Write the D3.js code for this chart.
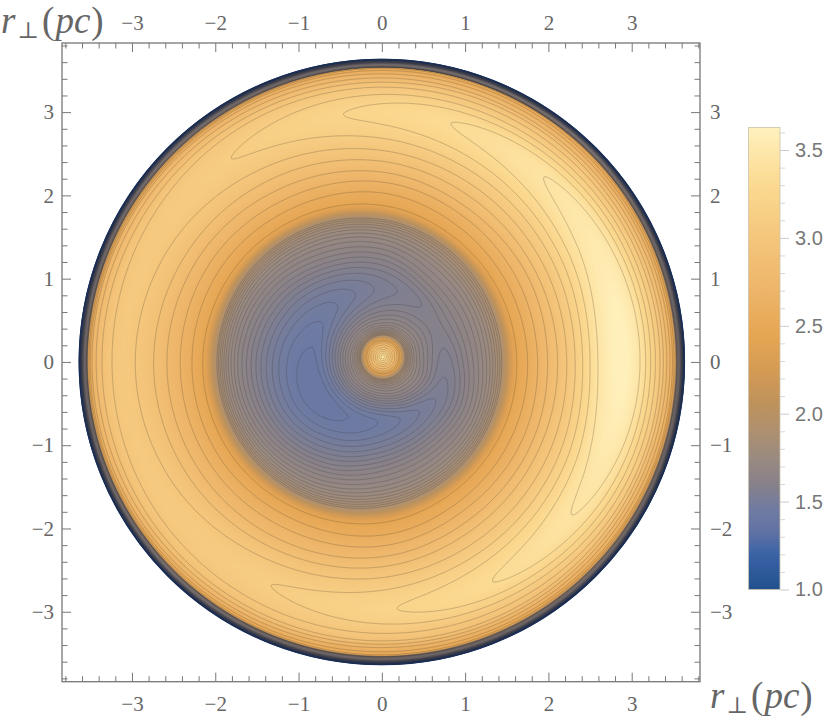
<!DOCTYPE html>
<html>
<head>
<meta charset="utf-8">
<script src="https://cdn.jsdelivr.net/npm/d3@7"></script>
<style>
html, body { margin: 0; padding: 0; background: #fff; }
svg { display: block; }
</style>
</head>
<body>
<div id="chart"></div>
<script>
// tick labels
let majorTicks = [-3, -2, -1, 0, 1, 2, 3]
let barTicks = [1.0, 1.5, 2.0, 2.5, 3.0, 3.5]

// colour function
let colorValues = [1.0, 1.2, 1.32, 1.45, 1.6, 1.75, 1.9, 2.05, 2.25, 2.45, 2.7, 3.0, 3.3, 3.63]
let colorStops = ["#22508d", "#3a63a6", "#5f71a4", "#6f7ba2", "#878189", "#9a8a80", "#ae9070", "#bd925c", "#d59b54", "#e6a653", "#edb569", "#f4c67c", "#fbd990", "#fff1bd"]

// contour levels, dense under 1.9 and sparse above
let denseLevels = [1.0, 1.025, 1.05, 1.075, 1.1, 1.125, 1.15, 1.175, 1.2, 1.225, 1.25, 1.275, 1.3, 1.325, 1.35, 1.375, 1.4, 1.425, 1.45, 1.475, 1.5, 1.525, 1.55, 1.575, 1.6, 1.625, 1.65, 1.675, 1.7, 1.725, 1.75, 1.775, 1.8, 1.825, 1.85, 1.875, 1.9]
let sparseLevels = [2.45, 2.56, 2.67, 2.78, 2.89, 3.0, 3.11, 3.22, 3.33, 3.44]

// bright spot in the middle (radius, value)
let coreCenter = [0.012, 0.06]
let coreRadii = [0, 0.1, 0.2, 0.245]
let coreValues = [3.45, 2.95, 2.5, 1.95]

// falling edge of the disk (radius, value)
let rimRadii = [3.535, 3.59, 3.635]
let rimValues = [1.9, 1.6, 1.0]

// profile knots for every 30 degrees of angle
let angles = [0, 30, 60, 90, 120, 150, 180, 210, 240, 270, 300, 330]
let shoulderIn = [0.49, 0.50, 0.48, 0.45, 0.44, 0.44, 0.45, 0.46, 0.46, 0.47, 0.50, 0.52]
let troughR = [0.74, 0.72, 0.78, 0.82, 0.84, 0.85, 0.87, 0.88, 0.84, 0.78, 0.78, 0.80]
let troughV = [1.567, 1.59, 1.568, 1.535, 1.49, 1.45, 1.418, 1.405, 1.425, 1.455, 1.495, 1.537]
let shoulderOut = [1.02, 0.98, 1.06, 1.28, 1.43, 1.60, 1.68, 1.64, 1.50, 1.32, 1.20, 1.14]
let ring190 = [1.44, 1.47, 1.57, 1.71, 1.84, 1.94, 1.98, 1.95, 1.87, 1.74, 1.60, 1.49]
let ring245 = [1.62, 1.643, 1.73, 1.88, 2.0, 2.10, 2.15, 2.127, 2.04, 1.93, 1.775, 1.667]
let ring256 = [1.75, 1.77, 1.865, 2.03, 2.135, 2.24, 2.28, 2.26, 2.17, 2.08, 1.91, 1.80]
let ring267 = [1.87, 1.90, 2.0, 2.16, 2.27, 2.38, 2.42, 2.40, 2.31, 2.21, 2.03, 1.93]
let ring278 = [1.99, 2.03, 2.11, 2.28, 2.41, 2.53, 2.58, 2.55, 2.46, 2.34, 2.16, 2.05]
let ring289 = [2.11, 2.14, 2.24, 2.41, 2.56, 2.68, 2.74, 2.70, 2.59, 2.46, 2.28, 2.16]
let ring300 = [2.22, 2.26, 2.37, 2.54, 2.72, 2.89, 2.96, 2.90, 2.74, 2.59, 2.42, 2.29]
let ridgeR = [2.88, 2.93, 2.97, 3.0, 3.03, 3.07, 3.10, 3.08, 3.0, 2.97, 2.95, 2.92]
let ridgeV = [3.62, 3.52, 3.39, 3.26, 3.13, 3.06, 3.04, 3.05, 3.10, 3.205, 3.345, 3.48]
let edge300 = [3.34, 3.33, 3.31, 3.30, 3.29, 3.26, 3.24, 3.25, 3.25, 3.26, 3.29, 3.33]
let edge289 = [3.38, 3.375, 3.37, 3.36, 3.36, 3.36, 3.36, 3.36, 3.35, 3.35, 3.36, 3.37]
let edge278 = [3.42, 3.42, 3.41, 3.41, 3.42, 3.43, 3.43, 3.42, 3.40, 3.39, 3.40, 3.41]
let edge267 = [3.46, 3.46, 3.46, 3.46, 3.47, 3.48, 3.48, 3.47, 3.45, 3.43, 3.44, 3.45]
let edge256 = [3.49, 3.49, 3.50, 3.50, 3.50, 3.50, 3.50, 3.50, 3.49, 3.48, 3.48, 3.49]
let edge245 = [3.51, 3.52, 3.53, 3.53, 3.52, 3.52, 3.52, 3.52, 3.52, 3.52, 3.51, 3.51]

let diskRadius = 3.64

let width = 830
let height = 719

let svg = d3.select("#chart").append("svg")
    .attr("width", width)
    .attr("height", height)

let x = d3.scaleLinear().domain([-3.84, 3.82]).range([62, 700])
let y = d3.scaleLinear().domain([-3.84, 3.83]).range([681.7, 43])
let barY = d3.scaleLinear().domain([1.0, 3.628]).range([589.5, 127.5])
let color = d3.scaleLinear().domain(colorValues).range(colorStops).clamp(true)

// each knot row with the value it stands for
let knots = [
    [shoulderIn, 1.65], [troughR, troughV], [shoulderOut, 1.65], [ring190, 1.9],
    [ring245, 2.45], [ring256, 2.56], [ring267, 2.67], [ring278, 2.78], [ring289, 2.89], [ring300, 3.0],
    [ridgeR, ridgeV],
    [edge300, 3.0], [edge289, 2.89], [edge278, 2.78], [edge267, 2.67], [edge256, 2.56], [edge245, 2.45]
]

function catmull(arr, t) {
    let n = arr.length
    let i = Math.floor(t)
    let f = t - i
    let p0 = arr[(i - 1 + n) % n], p1 = arr[i % n], p2 = arr[(i + 1) % n], p3 = arr[(i + 2) % n]
    return 0.5 * (2 * p1 + (p2 - p0) * f + (2 * p0 - 5 * p1 + 4 * p2 - p3) * f * f + (3 * p1 - p0 - 3 * p2 + p3) * f * f * f)
}

// monotone cubic through the knots of one angle, written into out[]
function fillProfile(rs, vs, out, dr) {
    let n = rs.length
    let d = [], m = []
    for (let i = 0; i < n - 1; i++) d.push((vs[i + 1] - vs[i]) / (rs[i + 1] - rs[i]))
    m[0] = d[0]
    m[n - 1] = d[n - 2]
    for (let i = 1; i < n - 1; i++) {
        if (d[i - 1] * d[i] <= 0) m[i] = 0
        else {
            let h0 = rs[i] - rs[i - 1], h1 = rs[i + 1] - rs[i]
            m[i] = 3 * (h0 + h1) / ((2 * h1 + h0) / d[i - 1] + (h1 + 2 * h0) / d[i])
        }
    }
    let k = 0
    for (let j = 0; j < out.length; j++) {
        let r = j * dr
        while (k < n - 2 && r > rs[k + 1]) k++
        let h = rs[k + 1] - rs[k]
        let t = Math.min(1, Math.max(0, (r - rs[k]) / h))
        let t2 = t * t, t3 = t2 * t
        out[j] = (2 * t3 - 3 * t2 + 1) * vs[k] + (t3 - 2 * t2 + t) * h * m[k] + (3 * t2 - 2 * t3) * vs[k + 1] + (t3 - t2) * h * m[k + 1]
    }
}

// lookup table over angle and radius
let thetaSteps = 720
let dr = 0.004
let radiusSteps = Math.ceil(3.7 / dr)
let lut = []
for (let a = 0; a < thetaSteps; a++) {
    let t = a / thetaSteps * angles.length
    let rs = coreRadii.slice()
    let vs = coreValues.slice()
    knots.forEach(k => {
        let r = catmull(k[0], t)
        rs.push(Math.max(r, rs[rs.length - 1] + 0.002))
        vs.push(Array.isArray(k[1]) ? catmull(k[1], t) : k[1])
    })
    rimRadii.forEach((r, i) => {
        rs.push(Math.max(r, rs[rs.length - 1] + 0.002))
        vs.push(rimValues[i])
    })
    let out = new Float32Array(radiusSteps)
    fillProfile(rs, vs, out, dr)
    lut.push(out)
}

function field(px, py) {
    let r0 = Math.hypot(px, py)
    let w = r0 < 0.8 ? 1 : r0 > 1.4 ? 0 : (1.4 - r0) / 0.6
    let qx = px - coreCenter[0] * w
    let qy = py - coreCenter[1] * w
    let r = Math.hypot(qx, qy)
    if (r >= 3.635) return 0.9
    let a = (Math.atan2(qy, qx) / (2 * Math.PI) + 1) % 1 * thetaSteps
    let a0 = Math.floor(a) % thetaSteps, a1 = (a0 + 1) % thetaSteps, fa = a - Math.floor(a)
    let j = r / dr
    let j0 = Math.floor(j), fj = j - j0
    let v0 = lut[a0][j0] * (1 - fj) + lut[a0][j0 + 1] * fj
    let v1 = lut[a1][j0] * (1 - fj) + lut[a1][j0 + 1] * fj
    return v0 * (1 - fa) + v1 * fa
}

// sample the field on a pixel grid
let gridX = 72, gridY = 52, gridN = 620
let grid = new Float64Array(gridN * gridN)
let canvas = document.createElement("canvas")
canvas.width = gridN
canvas.height = gridN
let ctx = canvas.getContext("2d")
let img = ctx.createImageData(gridN, gridN)
let palette = d3.range(0, 1024).map(i => d3.rgb(color(1 + i / 1023 * 2.63)))
for (let j = 0; j < gridN; j++) {
    let py = y.invert(gridY + j + 0.5)
    for (let i = 0; i < gridN; i++) {
        let px = x.invert(gridX + i + 0.5)
        let v = field(px, py)
        grid[j * gridN + i] = v
        let c = palette[Math.max(0, Math.min(1023, Math.round((v - 1) / 2.63 * 1023)))]
        let o = (j * gridN + i) * 4
        let edge = (diskRadius - Math.hypot(px, py)) * 83.3 + 0.5
        img.data[o] = c.r
        img.data[o + 1] = c.g
        img.data[o + 2] = c.b
        img.data[o + 3] = 255 * Math.max(0, Math.min(1, edge))
    }
}
ctx.putImageData(img, 0, 0)

svg.append("defs").append("clipPath").attr("id", "disk")
    .append("circle")
    .attr("cx", x(0))
    .attr("cy", y(0))
    .attr("r", x(diskRadius) - x(0))

svg.append("image")
    .attr("x", gridX)
    .attr("y", gridY)
    .attr("width", gridN)
    .attr("height", gridN)
    .attr("href", canvas.toDataURL())

let levels = denseLevels.concat(sparseLevels)
let contours = d3.contours().size([gridN, gridN]).thresholds(levels)(grid)
let path = d3.geoPath(d3.geoIdentity().translate([gridX, gridY]))

svg.append("g")
    .attr("clip-path", "url(#disk)")
    .selectAll("path")
    .data(contours)
    .enter()
    .append("path")
    .attr("d", path)
    .attr("fill", "none")
    .attr("stroke", d => d.value < 2 ? "#3c3a40" : "#6b5a3e")
    .attr("stroke-opacity", d => d.value < 2 ? 0.5 : 0.6)
    .attr("stroke-width", 0.55)

// dark rim where the outermost contours pile up
svg.append("circle")
    .attr("cx", x(0))
    .attr("cy", y(0))
    .attr("r", x(diskRadius) - x(0) - 0.8)
    .attr("fill", "none")
    .attr("stroke", "#1b2d52")
    .attr("stroke-width", 1.8)

// frame and ticks
let frameColor = "#777777"
let minorTicks = d3.range(-38, 39, 2).map(d => d / 10).filter(d => d % 1 !== 0)
let labelFont = "'Liberation Serif', serif"

function styleAxis(g) {
    g.select(".domain").remove()
    g.selectAll("line").attr("stroke", frameColor).attr("stroke-width", 1)
    g.selectAll("text").attr("fill", "#666666").attr("font-family", labelFont).attr("font-size", 21)
}

svg.append("rect")
    .attr("x", x.range()[0])
    .attr("y", y.range()[1])
    .attr("width", x.range()[1] - x.range()[0])
    .attr("height", y.range()[0] - y.range()[1])
    .attr("fill", "none")
    .attr("stroke", frameColor)
    .attr("stroke-width", 1.3)

let sides = [
    [d3.axisBottom(x), "translate(0," + y.range()[0] + ")", 14],
    [d3.axisTop(x), "translate(0," + y.range()[1] + ")", 13],
    [d3.axisLeft(y), "translate(" + x.range()[0] + ",0)", 8],
    [d3.axisRight(y), "translate(" + x.range()[1] + ",0)", 10]
]
sides.forEach(s => {
    svg.append("g").attr("transform", s[1])
        .call(s[0].tickValues(majorTicks).tickSize(-9).tickPadding(s[2]).tickFormat(d3.format("d")))
        .call(styleAxis)
    svg.append("g").attr("transform", s[1])
        .call(s[0].tickValues(minorTicks).tickSize(-5.5).tickFormat(""))
        .call(styleAxis)
})

// axis titles
function axisTitle(tx, ty) {
    let t = svg.append("text")
        .attr("x", tx)
        .attr("y", ty)
        .attr("font-family", labelFont)
        .attr("font-size", 37)
        .attr("fill", "#666666")
    t.append("tspan").attr("font-style", "italic").text("r")
    t.append("tspan").attr("dy", 5).attr("dx", 2).attr("font-size", 23).attr("font-family", "'DejaVu Serif', serif").text("\u22A5")
    t.append("tspan").attr("dy", -5).attr("dx", 3).text("(")
    t.append("tspan").attr("font-style", "italic").attr("dx", 1).text("pc")
    t.append("tspan").attr("dx", 1).text(")")
}
axisTitle(1, 33)
axisTitle(710, 708)

// colour bar
let gradient = svg.select("defs").append("linearGradient")
    .attr("id", "bar")
    .attr("x1", 0).attr("x2", 0).attr("y1", 1).attr("y2", 0)
gradient.selectAll("stop")
    .data(colorValues)
    .enter()
    .append("stop")
    .attr("offset", d => (d - 1) / 2.628)
    .attr("stop-color", (d, i) => colorStops[i])

svg.append("rect")
    .attr("x", 748.5)
    .attr("y", barY(3.628))
    .attr("width", 31.5)
    .attr("height", barY(1) - barY(3.628))
    .attr("fill", "url(#bar)")
    .attr("stroke", "#c9c2ad")
    .attr("stroke-width", 0.8)

let barMinor = d3.range(10, 37).map(d => d / 10).filter(d => !barTicks.includes(d))
let barAxis = svg.append("g").attr("transform", "translate(780,0)")
    .call(d3.axisRight(barY).tickValues(barTicks).tickSize(9).tickPadding(6).tickFormat(d3.format(".1f")))
barAxis.select(".domain").remove()
barAxis.selectAll("line").attr("stroke", "#cccccc")
barAxis.selectAll("text").attr("fill", "#777777").attr("font-family", "'Liberation Sans', sans-serif").attr("font-size", 20)

let barMinorAxis = svg.append("g").attr("transform", "translate(780,0)")
    .call(d3.axisRight(barY).tickValues(barMinor).tickSize(5).tickFormat(""))
barMinorAxis.select(".domain").remove()
barMinorAxis.selectAll("line").attr("stroke", "#d6d6d6")
</script>
</body>
</html>
